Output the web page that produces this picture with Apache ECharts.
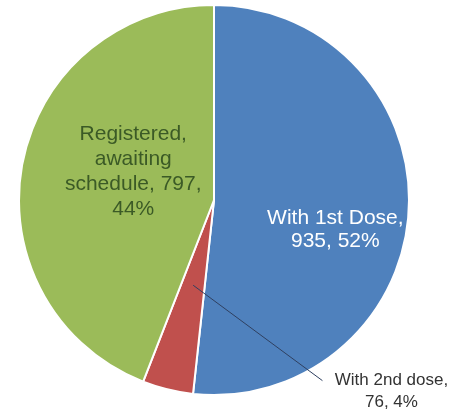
<!DOCTYPE html>
<html>
<head>
<meta charset="utf-8">
<script src="https://cdn.jsdelivr.net/npm/echarts@6/dist/echarts.min.js"></script>
<style>
html,body{margin:0;padding:0;background:#fff;}
#chart{width:461px;height:412px;}
</style>
</head>
<body>
<div id="chart"></div>
<script>
var categories = ['With 1st Dose', 'With 2nd dose', 'Registered, awaiting schedule'];
var values = [935, 76, 797];
var percents = ['52%', '4%', '44%'];
var colors = ['#4f81bd', '#c0504d', '#9bbb59'];

var chart = echarts.init(document.getElementById('chart'));
var CX = 214, CY = 200, R = 195;
var total = values.reduce(function(a,b){return a+b;},0);

function midAngle(i){ // clockwise from top, radians
  var s = 0;
  for (var k = 0; k < i; k++) s += values[k];
  return (s + values[i]/2) / total * 2 * Math.PI;
}

var labelTexts = [
  'With 1st Dose,\n' + values[0] + ', ' + percents[0],
  'With 2nd dose,\n' + values[1] + ', ' + percents[1],
  'Registered,\nawaiting\nschedule, ' + values[2] + ',\n' + percents[2]
];

// outside label anchor for the small slice
var LX = CX + R * 0.91, LY = CY + R * 0.87;
var a1 = midAngle(1);
var sx = CX + Math.sin(a1) * R * 0.45;
var sy = CY - Math.cos(a1) * R * 0.45;
var ex = LX - 69, ey = LY + 11;

var data = categories.map(function(c, i){
  var item = { name: c, value: values[i], itemStyle: { color: colors[i] } };
  if (i === 0) {
    item.label = { position: 'inside', color: '#ffffff', fontSize: 21, lineHeight: 23 };
  } else if (i === 2) {
    item.label = { position: 'inside', color: '#3b5a26', fontSize: 21, lineHeight: 25 };
  } else {
    item.label = { position: 'outside', color: '#333333', fontSize: 17, lineHeight: 22 };
  }
  return item;
});

chart.setOption({
  animation: false,
  backgroundColor: '#ffffff',
  graphic: [{
    type: 'polyline',
    z: 100,
    silent: true,
    shape: { points: [[sx, sy], [ex, ey]] },
    style: { stroke: '#2f4060', lineWidth: 1, fill: null }
  }],
  series: [{
    type: 'pie',
    center: [CX, CY],
    radius: [0, R],
    startAngle: 90,
    clockwise: true,
    avoidLabelOverlap: false,
    itemStyle: { borderColor: '#ffffff', borderWidth: 2 },
    label: {
      show: true,
      fontFamily: 'Liberation Sans, Arial, sans-serif',
      align: 'center',
      formatter: function(p){ return labelTexts[p.dataIndex]; }
    },
    labelLine: { show: false },
    labelLayout: function(p){
      var i = p.dataIndex;
      if (i === 0) return { dx: 21, dy: 24 };
      if (i === 2) return { dx: 18, dy: -10 };
      return { x: LX, y: LY, align: 'center', verticalAlign: 'top' };
    },
    data: data
  }]
});
</script>
</body>
</html>
